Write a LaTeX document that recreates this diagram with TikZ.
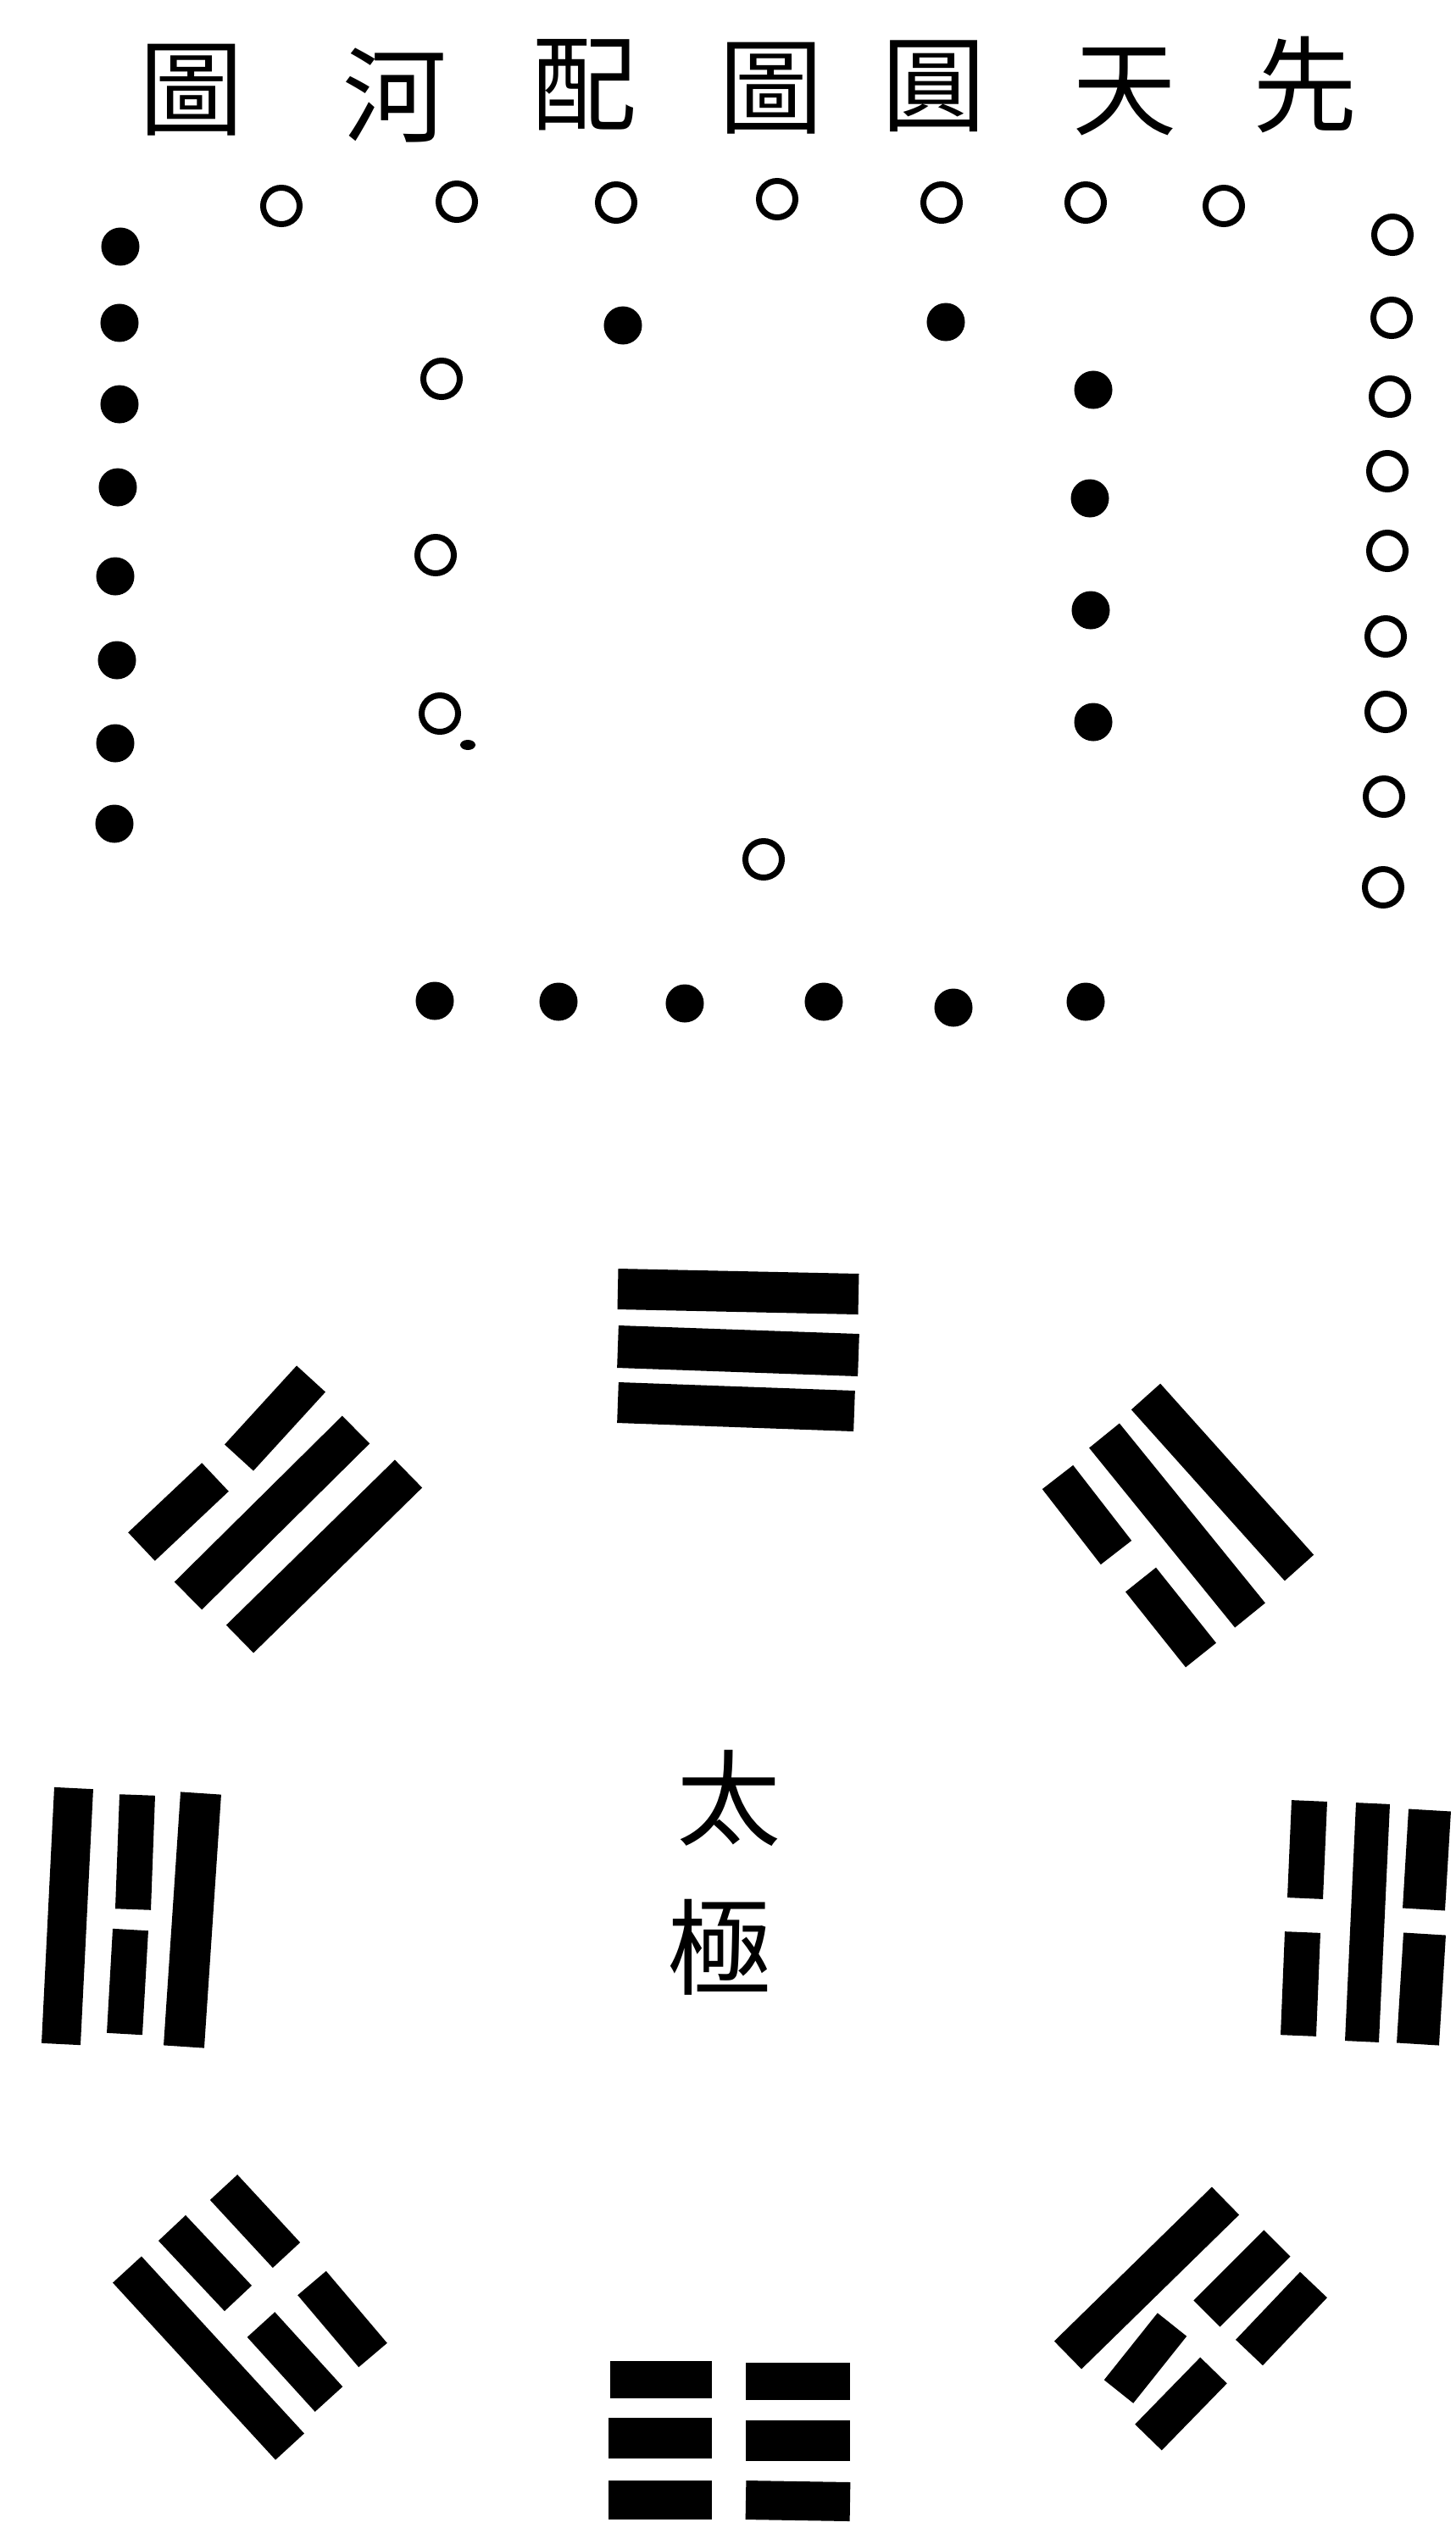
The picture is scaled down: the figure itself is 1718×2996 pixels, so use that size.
\documentclass[tikz,border=0pt]{standalone}
\usepackage{fontspec}
\newfontfamily\cjk{Noto Sans CJK TC}
\begin{document}
\begin{tikzpicture}[x=0.01cm,y=-0.01cm,
  wdot/.style={draw=black,line width=0.07cm,fill=white},
  bar/.style={draw=black,line width=0.46cm,line cap=butt},
  zi/.style={font=\cjk\fontsize{35}{35}\selectfont,inner sep=0pt,text=black}]
\fill[white] (0,0) rectangle (1718,2996);
\useasboundingbox (0,0) rectangle (1718,2996);

% title
\node[zi] (t1) at (226,106) {圖};
\node[zi] (t2) at (466,112) {河};
\node[zi] (t3) at (690,100) {配};
\node[zi] (t4) at (910,104) {圖};
\node[zi] (t5) at (1102,102) {圓};
\node[zi] (t6) at (1327,108) {天};
\node[zi] (t7) at (1540,100) {先};

% Hetu: open circles
\foreach \p in {(332,243),(539,238),(727,239),(917,235),(1111,239),(1281,239),(1444,243),
  (1643,277),(1642,375),(1640,468),(1637,556),(1637,650),(1635,751),(1635,840),(1633,940),(1632,1047),
  (521,447),(514,655),(519,842),(901,1014)}
  \draw[wdot] \p circle[radius=0.215cm];
% Hetu: filled dots
\foreach \p in {(142,291),(141,381),(141,477),(139,575),(136,680),(138,779),(136,877),(135,972),
  (735,384),(1116,380),
  (1290,460),(1286,588),(1287,720),(1290,852),
  (513,1181),(659,1182),(808,1184),(972,1182),(1125,1189),(1281,1182)}
  \fill[black] \p circle[radius=0.225cm];
\fill[black] (552,879) ellipse[x radius=0.09cm,y radius=0.06cm];

% Qian (top)
\draw[bar,line width=0.48cm] (729,1521) -- (1013,1527);
\draw[bar,line width=0.50cm] (729,1589) -- (1013,1599);
\draw[bar,line width=0.48cm] (729,1655) -- (1008,1665);

% top-left
\draw[bar] (282,1720) -- (367,1627);
\draw[bar] (167,1825) -- (254,1743);
\draw[bar] (222,1883) -- (420,1687);
\draw[bar] (283,1934) -- (482,1739);

% top-right
\draw[bar] (1352,1648) -- (1533,1850);
\draw[bar] (1303,1694) -- (1475,1906);
\draw[bar] (1248,1743) -- (1317,1832);
\draw[bar] (1346,1864) -- (1417,1953);

% Li (left)
\draw[bar,line width=0.46cm] (87,2110) -- (72,2412);
\draw[bar,line width=0.42cm] (162,2118) -- (157,2253);
\draw[bar,line width=0.42cm] (154,2277) -- (147,2400);
\draw[bar,line width=0.48cm] (237,2116) -- (217,2415);

% Kan (right)
\draw[bar,line width=0.42cm] (1545,2125) -- (1540,2240);
\draw[bar,line width=0.42cm] (1537,2280) -- (1532,2402);
\draw[bar,line width=0.40cm] (1620,2128) -- (1607,2409);
\draw[bar,line width=0.50cm] (1687,2136) -- (1680,2253);
\draw[bar,line width=0.50cm] (1681,2282) -- (1673,2412);

% Kun (bottom)
\draw[bar,line width=0.44cm] (720,2808) -- (840,2808);
\draw[bar,line width=0.44cm] (880,2810) -- (1003,2810);
\draw[bar,line width=0.48cm] (718,2877) -- (840,2877);
\draw[bar,line width=0.48cm] (880,2880) -- (1003,2880);
\draw[bar,line width=0.46cm] (718,2950) -- (840,2950);
\draw[bar,line width=0.46cm] (880,2950) -- (1003,2952);

% bottom-left
\draw[bar] (150,2678) -- (342,2887);
\draw[bar,line width=0.44cm] (203,2629) -- (281,2712);
\draw[bar,line width=0.44cm] (308,2743) -- (388,2831);
\draw[bar,line width=0.44cm] (264,2581) -- (338,2661);
\draw[bar,line width=0.44cm] (368,2694) -- (440,2779);

% bottom-right
\draw[bar] (1446,2597) -- (1260,2779);
\draw[bar,line width=0.44cm] (1507,2647) -- (1424,2730);
\draw[bar,line width=0.44cm] (1383,2743) -- (1320,2822);
\draw[bar,line width=0.44cm] (1550,2696) -- (1474,2776);
\draw[bar,line width=0.44cm] (1432,2797) -- (1355,2876);

% Taiji
\node[zi] (tai) at (860,2122) {太};
\node[zi] (ji) at (849,2298) {極};
\end{tikzpicture}
\end{document}
